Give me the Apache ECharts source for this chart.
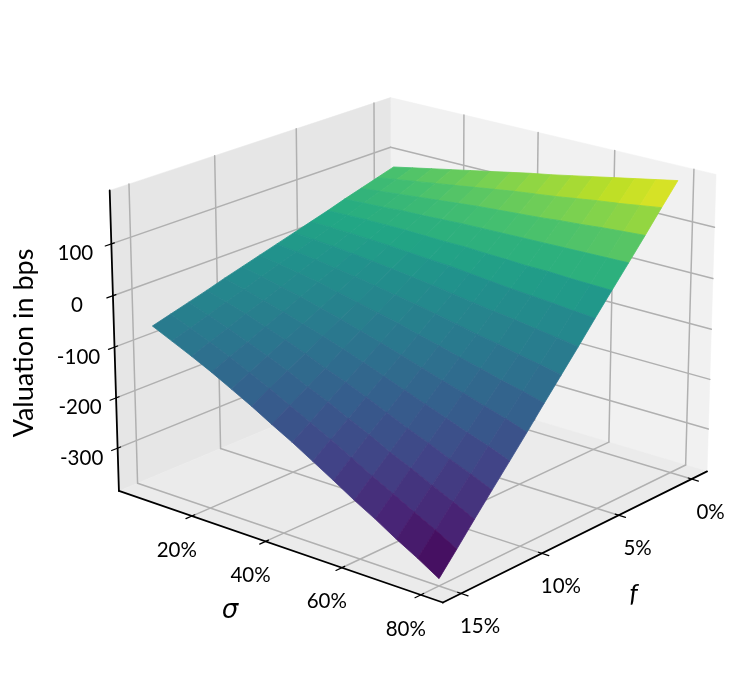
<!DOCTYPE html>
<html><head><meta charset="utf-8">
<style>html,body{margin:0;padding:0;background:#fff}#c{width:748px;height:684px}</style>
<script src="https://cdn.jsdelivr.net/npm/echarts@6/dist/echarts.min.js"></script>
</head><body><div id="c"></div>
<script>
// ---- data ----
const fValues = [0,1.07,2.14,3.21,4.29,5.36,6.43,7.5,8.57,9.64,10.71,11.79,12.86,13.93,15];
const sigmaValues = [5,10.36,15.71,21.07,26.43,31.79,37.14,42.5,47.86,53.21,58.57,63.93,69.29,74.64,80];
const row00 = [81,89,97,105,113,121,129,137,144,152,160,168,176,184,192];
const row01 = [71,77,83,89,95,101,107,113,118,123,129,135,140,146,152];
const row02 = [61,65,69,73,77,81,85,88,91,94,98,101,105,108,111];
const row03 = [51,53,55,58,59,61,63,64,65,66,67,68,69,70,71];
const row04 = [40,41,42,42,42,41,40,40,38,37,35,35,33,32,31];
const row05 = [30,29,28,26,24,21,18,16,12,8,4,1,-2,-6,-9];
const row06 = [20,17,14,10,6,1,-4,-9,-15,-21,-27,-32,-38,-44,-50];
const row07 = [10,5,0,-6,-12,-19,-26,-33,-41,-49,-58,-65,-74,-82,-90];
const row08 = [0,-7,-14,-21,-30,-39,-48,-57,-68,-78,-89,-99,-110,-119,-130];
const row09 = [-10,-19,-28,-37,-48,-58,-70,-82,-94,-107,-120,-132,-145,-157,-171];
const row10 = [-20,-31,-42,-53,-66,-78,-92,-106,-121,-136,-151,-166,-181,-195,-211];
const row11 = [-31,-43,-55,-69,-83,-98,-115,-130,-147,-165,-183,-199,-217,-233,-251];
const row12 = [-41,-55,-69,-85,-101,-118,-137,-154,-174,-193,-214,-232,-252,-271,-291];
const row13 = [-51,-67,-83,-100,-119,-138,-159,-179,-200,-222,-245,-266,-288,-309,-332];
const row14 = [-61,-79,-97,-116,-137,-158,-181,-203,-227,-251,-276,-299,-324,-347,-372];
const zRows = [row00,row01,row02,row03,row04,row05,row06,row07,row08,row09,row10,row11,row12,row13,row14];
const sigmaTicks = [20,40,60,80];
const fTicks = [0,5,10,15];
const zTicks = [-300,-200,-100,0,100];
const zTickLabels = ['-300','-200','-100','0','100'];
const viridis = ['#440154','#482475','#414487','#355f8d','#2a788e','#21918c','#22a884','#44bf70','#7ad151','#bddf26','#fde725'];

// ---- view ----
const F = [-1.09,16.09], S = [-0.47,85.47], Z = [-386,202];
const elev = 20*Math.PI/180, azim = 40*Math.PI/180, dist = 10;
const vMin = -372, vCenter = 0, vMax = 192;
const pxPerUnit = 3560, cx = 415, cy = 334, W = 748, H = 684;
const k = 1.8294640721620434*25/24/Math.hypot(4,4,3);
const box = [4*k,4*k,3*k];
const ce=Math.cos(elev),se=Math.sin(elev),ca=Math.cos(azim),sa=Math.sin(azim);
const w=[ce*ca,ce*sa,se], u=[-sa,ca,0], v=[-se*ca,-se*sa,ce];
function view(f,s,z){
  const p=[((f-F[0])/(F[1]-F[0])-.5)*box[0],((s-S[0])/(S[1]-S[0])-.5)*box[1],((z-Z[0])/(Z[1]-Z[0])-.5)*box[2]];
  const d=dist-(w[0]*p[0]+w[1]*p[1]+w[2]*p[2]);
  return {x:(u[0]*p[0]+u[1]*p[1])/d, y:(v[0]*p[0]+v[1]*p[1]+v[2]*p[2])/d, d:d};
}
function colorOf(z){
  let t = z<vCenter ? .5*(z-vMin)/(vCenter-vMin) : .5+.5*(z-vCenter)/(vMax-vCenter);
  t=Math.max(0,Math.min(1,t))*(viridis.length-1);
  const a=Math.floor(t),b=Math.min(a+1,viridis.length-1),m=t-a;
  const h=c=>[1,3,5].map(i=>parseInt(c.substr(i,2),16));
  const A=h(viridis[a]),B=h(viridis[b]);
  return 'rgb('+A.map((x,i)=>Math.round(x+(B[i]-x)*m)).join(',')+')';
}
const FONT='Lato, "Open Sans", sans-serif';
function backdrop(params,api){
  const P=(f,s,z)=>{const q=view(f,s,z);return api.coord([q.x,q.y]);};
  const kids=[];
  const poly=(pts,fill)=>kids.push({type:'polygon',shape:{points:pts},style:{fill:fill,stroke:fill,lineWidth:.5}});
  const line=(a,b,c,lw)=>kids.push({type:'line',shape:{x1:a[0],y1:a[1],x2:b[0],y2:b[1]},style:{stroke:c,lineWidth:lw,lineCap:'round'}});
  const txt=(p,dx,dy,t,font,extra)=>kids.push(Object.assign({type:'text',x:p[0]+dx,y:p[1]+dy,style:{text:t,fill:'#000',font:font,textAlign:'center',textVerticalAlign:'middle',align:'center',verticalAlign:'middle'}},extra||{}));
  const f0=F[0],f1=F[1],s0=S[0],s1=S[1],z0=Z[0],z1=Z[1];
  // panes
  poly([P(f0,s0,z0),P(f0,s1,z0),P(f0,s1,z1),P(f0,s0,z1)],'#f1f1f1');
  poly([P(f0,s0,z0),P(f1,s0,z0),P(f1,s0,z1),P(f0,s0,z1)],'#e6e6e6');
  poly([P(f0,s0,z0),P(f1,s0,z0),P(f1,s1,z0),P(f0,s1,z0)],'#ebebeb');
  const G='#b0b0b0',GW=1.5;
  sigmaTicks.forEach(s=>{line(P(f1,s,z0),P(f0,s,z0),G,GW);line(P(f0,s,z0),P(f0,s,z1),G,GW);});
  fTicks.forEach(f=>{line(P(f,s1,z0),P(f,s0,z0),G,GW);line(P(f,s0,z0),P(f,s0,z1),G,GW);});
  zTicks.forEach(z=>{line(P(f1,s0,z),P(f0,s0,z),G,GW);line(P(f0,s0,z),P(f0,s1,z),G,GW);});
  // axis lines
  line(P(f1,s0,z0),P(f1,s1,z0),'#000',1.8);
  line(P(f1,s1,z0),P(f0,s1,z0),'#000',1.8);
  line(P(f1,s0,z0),P(f1,s0,z1),'#000',1.8);
  const fd=f1-f0, sd=s1-s0, tick='20.5px '+FONT;
  sigmaTicks.forEach(s=>{
    line(P(f1+.02*fd,s,z0),P(f1-.01*fd,s,z0),'#000',1.2);
    txt(P(f1,s,z0),-15,34,s+'%',tick);
  });
  fTicks.forEach(f=>{
    line(P(f,s1+.02*sd,z0),P(f,s1-.01*sd,z0),'#000',1.2);
    txt(P(f,s1,z0),19,33,f+'%',tick);
  });
  zTicks.forEach((z,i)=>{
    line(P(f1+.02*fd,s0,z),P(f1-.01*fd,s0,z),'#000',1.2);
    txt(P(f1,s0,z),-36,10,zTickLabels[i],tick);
  });
  txt(P(f1,s0,(z0+z1)/2),-90,0,'Valuation in bps','27px '+FONT,{rotation:Math.PI/2});
  const sm=P(f1,(s0+s1)/2,z0), fm=P((f0+f1)/2,s1,z0);
  txt(sm,-45,67,'σ','italic 26px "DejaVu Sans", sans-serif');
  txt(fm,53,60,'f','italic 26px Lato, sans-serif');
  return {type:'group',children:kids};
}
// cells
const cells=[];
for(let i=0;i<fValues.length-1;i++)for(let j=0;j<sigmaValues.length-1;j++){
  const m=(zRows[i][j]+zRows[i+1][j]+zRows[i][j+1]+zRows[i+1][j+1])/4;
  const q=view((fValues[i]+fValues[i+1])/2,(sigmaValues[j]+sigmaValues[j+1])/2,m);
  cells.push({i:i,j:j,m:m,d:q.d});
}
cells.sort((a,b)=>b.d-a.d);
const cellData=cells.map(c=>[c.i,c.j,c.m]);
function cellItem(params,api){
  const i=api.value(0),j=api.value(1),m=api.value(2);
  const corner=(a,b)=>{const q=view(fValues[a],sigmaValues[b],zRows[a][b]);return api.coord([q.x,q.y]);};
  const c=colorOf(m);
  return {type:'polygon',shape:{points:[corner(i,j),corner(i+1,j),corner(i+1,j+1),corner(i,j+1)]},style:{fill:c,stroke:c,lineWidth:.8}};
}
const chart=echarts.init(document.getElementById('c'));
chart.setOption({
  animation:false,backgroundColor:'#fff',
  grid:{left:0,right:0,top:0,bottom:0},
  xAxis:{type:'value',show:false,min:-cx/pxPerUnit,max:(W-cx)/pxPerUnit,scale:true},
  yAxis:{type:'value',show:false,min:-(H-cy)/pxPerUnit,max:cy/pxPerUnit,scale:true},
  series:[
    {type:'custom',coordinateSystem:'cartesian2d',data:[[0,0]],renderItem:backdrop,silent:true,clip:false,z:1},
    {type:'custom',coordinateSystem:'cartesian2d',data:cellData,encode:{x:-1,y:-1},renderItem:cellItem,silent:true,clip:false,z:2}
  ]
});
</script></body></html>
